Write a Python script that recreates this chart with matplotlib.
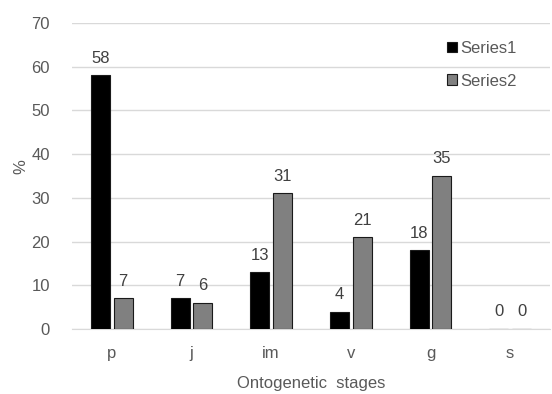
import matplotlib
matplotlib.use('Agg')
import matplotlib.pyplot as plt
import numpy as np

# Datos
etapas = ['p', 'j', 'im', 'v', 'g', 's']
serie1 = [58, 7, 13, 4, 18, 0]
serie2 = [7, 6, 31, 21, 35, 0]

plt.rcParams['font.family'] = ['Liberation Sans', 'DejaVu Sans']
texto = '#595959'

fig = plt.figure(figsize=(5.52, 3.94), dpi=100)
ax = fig.add_axes([72 / 552, 65 / 394, 478 / 552, 306 / 394])

x = np.arange(len(etapas))
ancho = 0.24
b1 = ax.bar(x - 0.143, serie1, ancho, color='black', edgecolor='#1a1a1a',
            linewidth=0.8, label='Series1', zorder=3)
b2 = ax.bar(x + 0.143, serie2, ancho, color='#808080', edgecolor='#1a1a1a',
            linewidth=0.8, label='Series2', zorder=3)

for barras in (b1, b2):
    for r in barras:
        ax.text(r.get_x() + r.get_width() / 2, r.get_height() + 2.2,
                f'{int(r.get_height())}', ha='center', va='bottom',
                fontsize=12, color='#404040')

ax.set_xlim(-0.5, len(etapas) - 0.5)
ax.set_ylim(0, 70)
ax.set_yticks(range(0, 71, 10))
ax.set_xticks(x)
ax.set_xticklabels(etapas)
ax.tick_params(axis='both', length=0, labelsize=12, colors=texto)
ax.tick_params(axis='x', pad=12)
ax.tick_params(axis='y', pad=16)
ax.grid(axis='y', color='#d9d9d9', linewidth=1, zorder=0)
for s in ['top', 'right', 'left']:
    ax.spines[s].set_visible(False)
ax.spines['bottom'].set_color('#d9d9d9')

ax.set_xlabel('Ontogenetic  stages', fontsize=12, color=texto)
ax.xaxis.set_label_coords(0.5, -0.152)
ax.set_ylabel('%', fontsize=12, color=texto)
ax.yaxis.set_label_coords(-0.092, 0.53)

leg = ax.legend(loc='upper right', bbox_to_anchor=(0.962, 0.99), frameon=False,
                fontsize=12, handlelength=0.6, handleheight=0.6,
                handletextpad=0.2, labelspacing=1.05, labelcolor=texto)

plt.savefig('out.png', dpi=100)
